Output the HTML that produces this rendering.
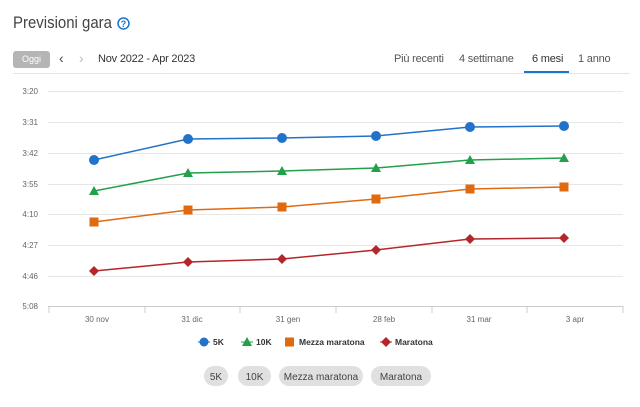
<!DOCTYPE html>
<html><head><meta charset="utf-8"><style>
body{margin:0;width:640px;height:407px;background:#fff;font-family:"Liberation Sans",sans-serif;overflow:hidden;position:relative}
.a{position:absolute;white-space:nowrap}
</style></head><body>
<div class="a" style="left:13px;top:13px;font-size:17px;color:#444;transform:scaleX(0.88);transform-origin:0 0">Previsioni gara</div>
<svg class="a" style="left:117px;top:17px" width="13" height="13"><circle cx="6.5" cy="6.5" r="5.5" fill="none" stroke="#1a73c8" stroke-width="1.5"/><text x="6.5" y="10" font-size="9" text-anchor="middle" fill="#1a73c8" font-family="Liberation Sans" font-weight="bold">?</text></svg>
<div class="a" style="left:13px;top:51px;width:37px;height:17px;background:#b5b5b5;border-radius:3px;color:#fff;font-size:9px;text-align:center;line-height:17px">Oggi</div>
<div class="a" style="left:59px;top:50px;font-size:14px;color:#444">‹</div>
<div class="a" style="left:79px;top:50px;font-size:14px;color:#bbb">›</div>
<div class="a" style="left:98px;top:53px;font-size:11px;color:#333;letter-spacing:-0.2px">Nov 2022 - Apr 2023</div>
<div class="a" style="left:394px;top:53px;font-size:11px;color:#555;letter-spacing:-0.2px">Più recenti</div>
<div class="a" style="left:459px;top:53px;font-size:11px;color:#555;letter-spacing:-0.2px">4 settimane</div>
<div class="a" style="left:532px;top:53px;font-size:11px;color:#333;letter-spacing:-0.2px">6 mesi</div>
<div class="a" style="left:578px;top:53px;font-size:11px;color:#555;letter-spacing:-0.2px">1 anno</div>
<div class="a" style="left:13px;top:73px;width:617px;height:1px;background:#e3e3e3"></div>
<div class="a" style="left:524px;top:71px;width:45px;height:2px;background:#1a73c8"></div>
<svg class="a" style="left:0;top:0" width="640" height="407" font-family="Liberation Sans">
<g stroke="#e6e6e6" stroke-width="1">
<line x1="48" x2="623" y1="91.5" y2="91.5"/><line x1="48" x2="623" y1="122.5" y2="122.5"/><line x1="48" x2="623" y1="153.5" y2="153.5"/><line x1="48" x2="623" y1="184.5" y2="184.5"/><line x1="48" x2="623" y1="214.5" y2="214.5"/><line x1="48" x2="623" y1="245.5" y2="245.5"/><line x1="48" x2="623" y1="276.5" y2="276.5"/>
</g>
<line x1="48" x2="623" y1="306.5" y2="306.5" stroke="#ccc"/>
<g stroke="#ccc"><line x1="49" x2="49" y1="306" y2="313"/><line x1="145" x2="145" y1="306" y2="313"/><line x1="240" x2="240" y1="306" y2="313"/><line x1="336" x2="336" y1="306" y2="313"/><line x1="432" x2="432" y1="306" y2="313"/><line x1="527" x2="527" y1="306" y2="313"/><line x1="623" x2="623" y1="306" y2="313"/></g>
<g font-size="8" fill="#666" text-anchor="end">
<text x="38" y="94">3:20</text><text x="38" y="125">3:31</text><text x="38" y="156">3:42</text><text x="38" y="187">3:55</text><text x="38" y="217">4:10</text><text x="38" y="248">4:27</text><text x="38" y="279">4:46</text><text x="38" y="309">5:08</text>
</g>
<g font-size="8" fill="#666" text-anchor="middle">
<text x="97" y="322">30 nov</text><text x="192" y="322">31 dic</text><text x="288" y="322">31 gen</text><text x="384" y="322">28 feb</text><text x="479" y="322">31 mar</text><text x="575" y="322">3 apr</text>
</g>
<polyline fill="none" stroke="#2272c9" stroke-width="1.5" points="94,160 188,139 282,138 376,136 470,127 564,126"/>
<g fill="#2272c9"><circle cx="94" cy="160" r="5"/><circle cx="188" cy="139" r="5"/><circle cx="282" cy="138" r="5"/><circle cx="376" cy="136" r="5"/><circle cx="470" cy="127" r="5"/><circle cx="564" cy="126" r="5"/></g>
<polyline fill="none" stroke="#22a04a" stroke-width="1.5" points="94,191 188,173 282,171 376,168 470,160 564,158"/>
<g fill="#22a04a"><path d="M94,186l5,9h-10z"/><path d="M188,168l5,9h-10z"/><path d="M282,166l5,9h-10z"/><path d="M376,163l5,9h-10z"/><path d="M470,155l5,9h-10z"/><path d="M564,153l5,9h-10z"/></g>
<polyline fill="none" stroke="#e06a10" stroke-width="1.5" points="94,222 188,210 282,207 376,199 470,189 564,187"/>
<g fill="#e06a10"><rect x="89.5" y="217.5" width="9" height="9"/><rect x="183.5" y="205.5" width="9" height="9"/><rect x="277.5" y="202.5" width="9" height="9"/><rect x="371.5" y="194.5" width="9" height="9"/><rect x="465.5" y="184.5" width="9" height="9"/><rect x="559.5" y="182.5" width="9" height="9"/></g>
<polyline fill="none" stroke="#b5262b" stroke-width="1.5" points="94,271 188,262 282,259 376,250 470,239 564,238"/>
<g fill="#b5262b"><path d="M94,266l5,5l-5,5l-5,-5z"/><path d="M188,257l5,5l-5,5l-5,-5z"/><path d="M282,254l5,5l-5,5l-5,-5z"/><path d="M376,245l5,5l-5,5l-5,-5z"/><path d="M470,234l5,5l-5,5l-5,-5z"/><path d="M564,233l5,5l-5,5l-5,-5z"/></g>
<g font-size="8.5" fill="#333" font-weight="bold">
<circle cx="204" cy="342" r="4.5" fill="#2272c9"/><line x1="198" x2="210" y1="342" y2="342" stroke="#2272c9"/><text x="213" y="345">5K</text>
<path d="M247,337l5,9h-10z" fill="#22a04a"/><line x1="241" x2="253" y1="342" y2="342" stroke="#22a04a"/><text x="256" y="345">10K</text>
<rect x="285" y="337.5" width="9" height="9" fill="#e06a10"/><text x="299" y="345">Mezza maratona</text>
<path d="M386,337l5,5l-5,5l-5,-5z" fill="#b5262b"/><line x1="380" x2="392" y1="342" y2="342" stroke="#b5262b"/><text x="395" y="345">Maratona</text>
</g>
<g fill="#e0e0e0"><rect x="204" y="366" width="24" height="20" rx="10"/><rect x="238" y="366" width="33" height="20" rx="10"/><rect x="279" y="366" width="84" height="20" rx="10"/><rect x="371" y="366" width="60" height="20" rx="10"/></g>
<g font-size="10" fill="#444" text-anchor="middle"><text x="216" y="380">5K</text><text x="254.5" y="380">10K</text><text x="321" y="380">Mezza maratona</text><text x="401" y="380">Maratona</text></g>
</svg>
</body></html>
